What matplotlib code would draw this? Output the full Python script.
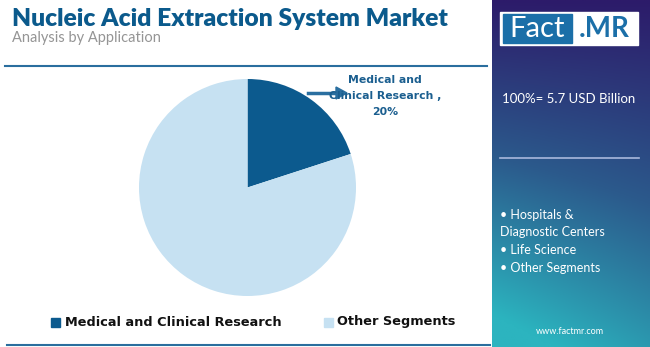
import matplotlib.pyplot as plt
import numpy as np
from matplotlib.patches import Rectangle

labels = ['Medical and Clinical Research', 'Other Segments']
shares = [20, 80]
colors = ['#0c5a8e', '#c6e1f2']
bullets = ['\u2022 Hospitals &', 'Diagnostic Centers', '\u2022 Life Science', '\u2022 Other Segments']

W, H = 650, 347
fig = plt.figure(figsize=(6.5, 3.47), dpi=100)
fig.patch.set_facecolor('white')

def fx(x): return x / W
def fy(y): return 1 - y / H

# title block
fig.text(fx(12), fy(19), 'Nucleic Acid Extraction System Market', fontsize=17.7,
         fontweight='heavy', color='#0b5a8c', va='center', family='Lato')
fig.text(fx(12), fy(38), 'Analysis by Application', fontsize=10.5,
         color='#959595', va='center', family='Lato')

# top and bottom rule lines
fig.add_artist(plt.Line2D([fx(5), fx(487)], [fy(66), fy(66)], color='#2a6e9e', lw=1.5))
fig.add_artist(plt.Line2D([fx(7), fx(490)], [fy(345), fy(345)], color='#2a6e9e', lw=1.5))

# pie
ax = fig.add_axes([fx(139), fy(296), fx(356) - fx(139), fy(79) - fy(296)])
ax.pie(shares, colors=colors, startangle=90, counterclock=False)
ax.set_xlim(-1, 1)
ax.set_ylim(-1, 1)
ax.set_aspect('auto')

# annotation
fig.text(fx(385), fy(96), 'Medical and\nClinical Research ,\n20%', fontsize=7.8,
         fontweight='bold', color='#1a5e8f', ha='center', va='center',
         linespacing=1.75, family='DejaVu Sans')
fig.add_artist(plt.Line2D([fx(308), fx(338)], [fy(93), fy(93)], color='#2a6fa0', lw=2.5))
fig.patches.append(plt.Polygon([[fx(336), fy(87)], [fx(347), fy(93)], [fx(336), fy(99)]],
                               closed=True, color='#2a6fa0', transform=fig.transFigure))

# legend
fig.patches.append(Rectangle((fx(51), fy(327)), fx(9), 9 / H, color=colors[0], transform=fig.transFigure))
fig.text(fx(65), fy(322), labels[0], fontsize=9.3, fontweight='bold', color='#111111',
         va='center', family='DejaVu Sans')
fig.patches.append(Rectangle((fx(324), fy(327)), fx(9), 9 / H, color=colors[1], transform=fig.transFigure))
fig.text(fx(337), fy(322), labels[1], fontsize=9.3, fontweight='bold', color='#111111',
         va='center', family='DejaVu Sans')

# right gradient panel
pax = fig.add_axes([fx(492), 0, fx(650) - fx(492), 1])
ny, nx = 200, 60
yy, xx = np.mgrid[0:1:ny * 1j, 0:1:nx * 1j]
t = np.clip(yy * 0.85 + (1 - xx) * 0.25 * yy, 0, 1)
top = np.array([0x2d, 0x1b, 0x6a]) / 255
mid = np.array([0x2b, 0x5a, 0x8c]) / 255
bot = np.array([0x2c, 0xb4, 0xbf]) / 255
img = np.where(t[..., None] < 0.5,
               top + (mid - top) * (t[..., None] / 0.5),
               mid + (bot - mid) * ((t[..., None] - 0.5) / 0.5))
pax.imshow(img, aspect='auto', extent=[0, 1, 1, 0])
pax.set_xlim(0, 1)
pax.set_ylim(1, 0)
pax.axis('off')

# logo
fig.patches.append(Rectangle((fx(500), fy(45)), fx(138), 33 / H, color='white', transform=fig.transFigure))
fig.patches.append(Rectangle((fx(503), fy(43)), fx(69), 29 / H, color='#1b6fa8', transform=fig.transFigure))
fig.text(fx(537), fy(29), 'Fact', fontsize=21, color='white', ha='center', va='center', family='Lato')
fig.text(fx(604), fy(29), '.MR', fontsize=20, fontweight='bold', color='#1b6fa8',
         ha='center', va='center', family='Lato')

fig.text(fx(502), fy(99), '100%= 5.7 USD Billion', fontsize=9.5, color='white', va='center', family='Lato')
fig.add_artist(plt.Line2D([fx(500), fx(639)], [fy(158), fy(158)], color='#a9b8dc', lw=1.2))
for i, b in enumerate(bullets):
    fig.text(fx(500), fy(215 + i * 17.5), b, fontsize=9, color='white', va='center', family='Lato')
fig.text(fx(570), fy(331), 'www.factmr.com', fontsize=6.5, color='white', ha='center',
         va='center', family='Lato')

fig.savefig('out.png', dpi=100)
